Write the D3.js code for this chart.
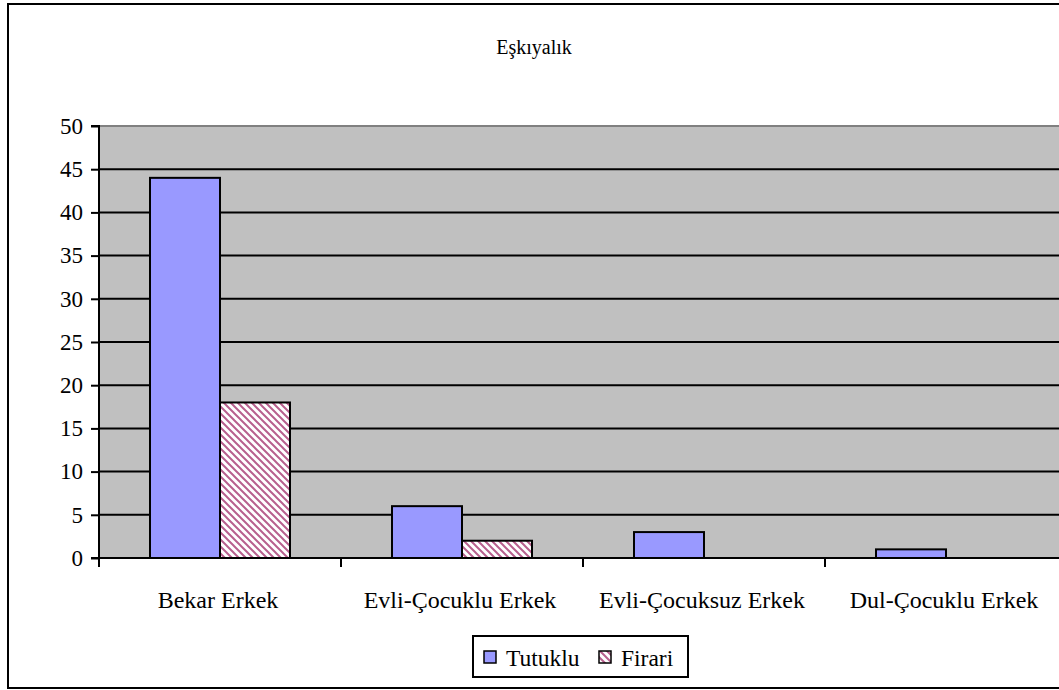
<!DOCTYPE html>
<html>
<head>
<meta charset="utf-8">
<script src="https://cdn.jsdelivr.net/npm/d3@7/dist/d3.min.js"></script>
<style>
    body { margin: 0; background: white; }
    svg { display: block; }
    svg text { font-family: "Liberation Serif", "DejaVu Serif", serif; fill: black; }
</style>
</head>
<body>
<div id="container"></div>
<script>
const title = "Eşkıyalık"
const categories = ["Bekar Erkek", "Evli-Çocuklu Erkek", "Evli-Çocuksuz Erkek", "Dul-Çocuklu Erkek"]
const seriesNames = ["Tutuklu", "Firari"]
const tutuklu = [44, 6, 3, 1]
const firari = [18, 2, 0, 0]
const yTicks = [0, 5, 10, 15, 20, 25, 30, 35, 40, 45, 50]

const w = 1059
const h = 690
const plot = { left: 99, right: 1067, top: 126, bottom: 558 }

const svg = d3.select("#container")
    .append("svg")
    .attr("width", w)
    .attr("height", h)

// hatch pattern for Firari
const defs = svg.append("defs")
const pat = defs.append("pattern")
    .attr("id", "hatch")
    .attr("patternUnits", "userSpaceOnUse")
    .attr("width", 7)
    .attr("height", 7)
pat.append("rect").attr("width", 7).attr("height", 7).attr("fill", "white")
pat.append("path")
    .attr("d", "M-1,-1 L8,8 M-4.5,2.5 L4.5,11.5 M2.5,-4.5 L11.5,4.5")
    .attr("stroke", "#b8608e")
    .attr("stroke-width", 2)

// outer border
svg.append("rect")
    .attr("x", 8).attr("y", 4)
    .attr("width", 1080).attr("height", 684)
    .attr("fill", "white")
    .attr("stroke", "black")
    .attr("stroke-width", 2)

svg.append("text")
    .attr("x", 534)
    .attr("y", 54)
    .attr("text-anchor", "middle")
    .style("font-size", "20px")
    .text(title)

const x = d3.scaleBand()
    .domain(categories)
    .range([plot.left, plot.right])
const xInner = d3.scaleBand()
    .domain(seriesNames)
    .range([0, 140])
const y = d3.scaleLinear()
    .domain([0, 50])
    .range([plot.bottom, plot.top])

svg.append("rect")
    .attr("x", plot.left).attr("y", plot.top)
    .attr("width", plot.right - plot.left)
    .attr("height", plot.bottom - plot.top)
    .attr("fill", "#c0c0c0")

svg.append("line")
    .attr("x1", plot.left).attr("x2", plot.right)
    .attr("y1", plot.top).attr("y2", plot.top)
    .attr("stroke", "#808080")
    .attr("stroke-width", 2)

svg.append("g")
    .selectAll("line")
    .data(yTicks.filter(d => d > 0 && d < 50))
    .join("line")
    .attr("x1", plot.left).attr("x2", plot.right)
    .attr("y1", d => y(d)).attr("y2", d => y(d))
    .attr("stroke", "black")
    .attr("stroke-width", 2)

const rows = categories.map((c, i) => ({ cat: c, values: [tutuklu[i], firari[i]] }))

const groups = svg.append("g")
    .selectAll("g")
    .data(rows)
    .join("g")
    .attr("transform", d => `translate(${x(d.cat) + (x.bandwidth() - 140) / 2}, 0)`)
groups.selectAll("rect")
    .data(d => d.values.map((v, j) => ({ name: seriesNames[j], value: v })).filter(e => e.value > 0))
    .join("rect")
    .attr("x", d => xInner(d.name))
    .attr("y", d => y(d.value))
    .attr("width", xInner.bandwidth())
    .attr("height", d => y(0) - y(d.value))
    .attr("fill", d => d.name === "Tutuklu" ? "#9999ff" : "url(#hatch)")
    .attr("stroke", "black")
    .attr("stroke-width", 2)

const yAxis = d3.axisLeft(y)
    .tickValues(yTicks)
    .tickSize(8)
    .tickPadding(8)
svg.append("g")
    .attr("transform", `translate(${plot.left}, 0)`)
    .call(yAxis)
    .attr("font-family", null)
    .attr("font-size", null)
    .call(g => g.select(".domain").attr("stroke-width", 2).attr("d", `M-8,${plot.top}H0V${plot.bottom}`))
    .call(g => g.selectAll(".tick line").attr("stroke-width", 2))
    .call(g => g.selectAll("text").style("font-size", "23px"))

const xTickScale = d3.scaleLinear().domain([0, 4]).range([plot.left, plot.right])
svg.append("g")
    .selectAll("line")
    .data([0, 1, 2, 3])
    .join("line")
    .attr("x1", d => xTickScale(d)).attr("x2", d => xTickScale(d))
    .attr("y1", plot.bottom).attr("y2", plot.bottom + 9)
    .attr("stroke", "black")
    .attr("stroke-width", 2)
svg.append("line")
    .attr("x1", plot.left - 8).attr("x2", plot.right)
    .attr("y1", plot.bottom).attr("y2", plot.bottom)
    .attr("stroke", "black")
    .attr("stroke-width", 2)

svg.append("g")
    .selectAll("text")
    .data(categories)
    .join("text")
    .attr("x", d => x(d) + x.bandwidth() / 2 - 2)
    .attr("y", 608)
    .attr("text-anchor", "middle")
    .style("font-size", "24px")
    .text(d => d)

// legend
const legend = svg.append("g").attr("transform", "translate(473, 636)")
legend.append("rect")
    .attr("width", 215).attr("height", 41)
    .attr("fill", "white")
    .attr("stroke", "black")
    .attr("stroke-width", 2)
const legendX = [11, 126]
seriesNames.forEach((name, i) => {
    legend.append("rect")
        .attr("x", legendX[i]).attr("y", 15)
        .attr("width", 12).attr("height", 12)
        .attr("fill", i === 0 ? "#9999ff" : "url(#hatch)")
        .attr("stroke", "black")
        .attr("stroke-width", 1.5)
    legend.append("text")
        .attr("x", legendX[i] + 22)
        .attr("y", 30)
        .style("font-size", "23.5px")
        .text(name)
})
</script>
</body>
</html>
